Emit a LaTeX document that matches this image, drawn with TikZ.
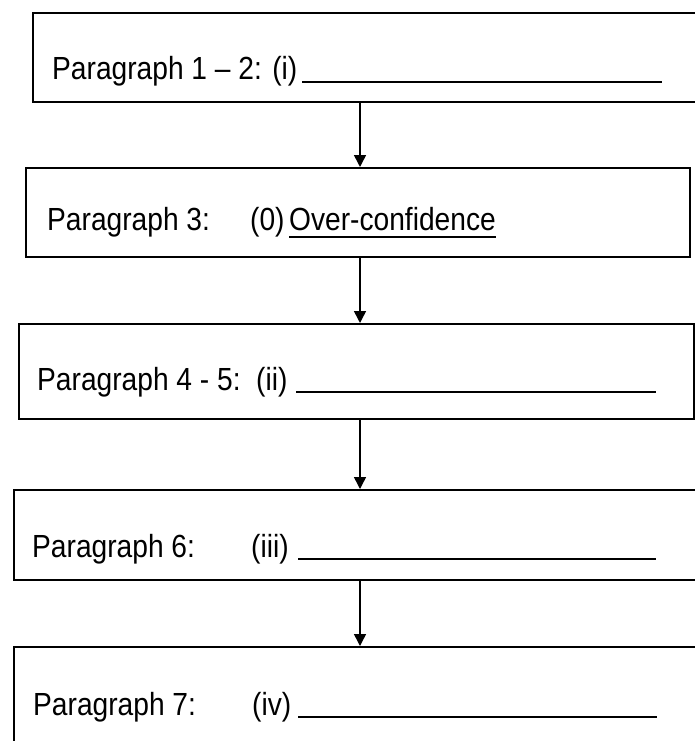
\documentclass[tikz,border=0pt]{standalone}
\usepackage{fontspec}
\setmainfont{Liberation Sans}[FakeStretch=0.88]
\usetikzlibrary{arrows.meta, positioning}

\begin{document}
\begin{tikzpicture}[
      x=1pt, y=-1pt,
      box/.style={draw, line width=1.6pt, inner sep=0pt, anchor=north west},
      lbl/.style={inner sep=0pt, anchor=base west, font=\fontsize{32}{36}\selectfont},
      blank/.style={line width=1.5pt},
      arr/.style={-{Triangle[length=12pt, width=12pt]}, line width=1.5pt}
    ]
      \useasboundingbox (0,0) rectangle (694,741);

      % boxes
      \node[box, minimum width=672pt, minimum height=89pt] (B1) at (32,12) {};
      \node[box, minimum width=664pt, minimum height=89pt] (B2) at (25,167) {};
      \node[box, minimum width=675pt, minimum height=95pt] (B3) at (18,323) {};
      \node[box, minimum width=691pt, minimum height=90pt] (B4) at (13,489) {};
      \node[box, minimum width=692pt, minimum height=120pt] (B5) at (13,646) {};

      % labels
      \node[lbl] (P1) at (52,80) {Paragraph 1 \textendash{} 2: (i)};
      \node[lbl] (P2) at (47,230) {Paragraph 3:};
      \node[lbl] (N2) at (250,230) {(0)};
      \node[lbl] (A2) at (289,230) {Over-confidence};
      \node[lbl] (P3) at (37,390) {Paragraph 4 - 5:};
      \node[lbl] (N3) at (256,390) {(ii)};
      \node[lbl] (P4) at (32,557) {Paragraph 6:};
      \node[lbl] (N4) at (251,557) {(iii)};
      \node[lbl] (P5) at (33,715) {Paragraph 7:};
      \node[lbl] (N5) at (252,715) {(iv)};

      % answer lines
      \draw[blank] (302,82) -- (662,82);
      \draw[blank] ([yshift=-7pt]A2.base west) -- ([yshift=-7pt]A2.base east);
      \draw[blank] (296,392) -- (656,392);
      \draw[blank] (298,559) -- (656,559);
      \draw[blank] (298,717) -- (657,717);

      % arrows
      \coordinate (ax) at (360,0);
      \draw[arr] (B1.south -| ax) -- (B2.north -| ax);
      \draw[arr] (B2.south -| ax) -- (B3.north -| ax);
      \draw[arr] (B3.south -| ax) -- (B4.north -| ax);
      \draw[arr] (B4.south -| ax) -- (B5.north -| ax);
    \end{tikzpicture}
\end{document}
